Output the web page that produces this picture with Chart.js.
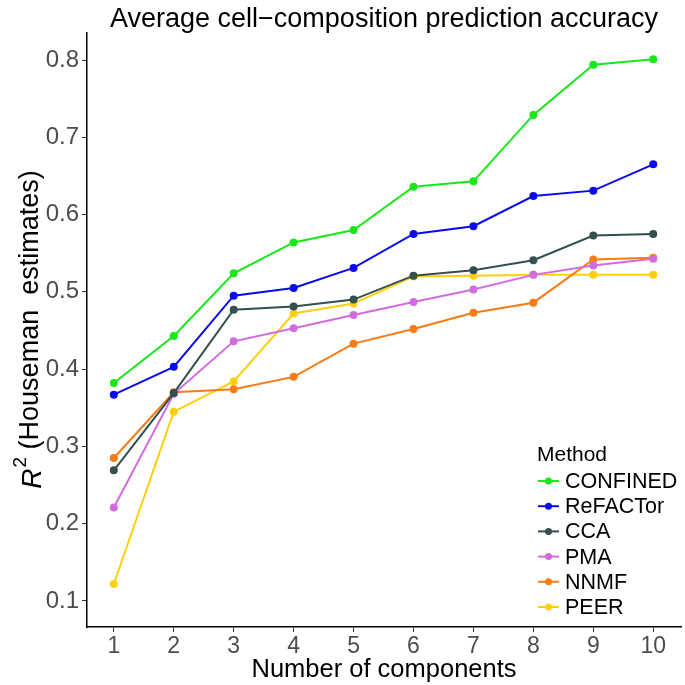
<!DOCTYPE html>
<html>
<head>
<meta charset="utf-8">
<script src="https://cdn.jsdelivr.net/npm/chart.js@4"></script>
<style>
  html, body { margin: 0; padding: 0; background: #fff; }
  #wrap { width: 685px; height: 685px; }
</style>
</head>
<body>
<div id="wrap"><canvas id="chart" width="685" height="685"></canvas></div>
<script>
const components = [1, 2, 3, 4, 5, 6, 7, 8, 9, 10];
const methods = ['CONFINED', 'ReFACTor', 'CCA', 'PMA', 'NNMF', 'PEER'];
const colors = ['#17E817', '#0A0AEE', '#334F4F', '#D36BE0', '#FA7A14', '#FFCF0F'];

const confined = [0.382, 0.443, 0.524, 0.564, 0.580, 0.636, 0.643, 0.729, 0.794, 0.801];
const refactor = [0.367, 0.403, 0.495, 0.505, 0.531, 0.575, 0.585, 0.624, 0.631, 0.665];
const cca      = [0.269, 0.369, 0.477, 0.481, 0.490, 0.521, 0.528, 0.541, 0.573, 0.575];
const pma      = [0.221, 0.368, 0.436, 0.453, 0.470, 0.487, 0.503, 0.522, 0.534, 0.543];
const nnmf     = [0.285, 0.370, 0.374, 0.390, 0.433, 0.452, 0.473, 0.486, 0.542, 0.544];
const peer     = [0.122, 0.345, 0.384, 0.472, 0.485, 0.520, 0.521, 0.522, 0.522, 0.522];

const yTicks = [0.1, 0.2, 0.3, 0.4, 0.5, 0.6, 0.7, 0.8];
const series = [confined, refactor, cca, pma, nnmf, peer];

const FONT = '"Liberation Sans", Arial, Helvetica, sans-serif';

const datasets = series.map((vals, i) => ({
    label: methods[i],
    data: vals.map((v, j) => ({ x: components[j], y: v })),
    borderColor: colors[i],
    backgroundColor: colors[i],
    borderWidth: 2,
    pointRadius: 4,
    pointHoverRadius: 4,
    pointBorderWidth: 0,
    tension: 0
}));

// title, y-axis title (with italic R and superscript) and the legend box
const decorations = {
    id: 'decorations',
    afterDraw(chart) {
        const ctx = chart.ctx;
        const area = chart.chartArea;
        ctx.save();

        ctx.fillStyle = '#000';
        ctx.font = '27px ' + FONT;
        ctx.textAlign = 'center';
        ctx.textBaseline = 'alphabetic';
        ctx.fillText('Average cell\u2212composition prediction accuracy', (area.left + area.right) / 2, 27);

        // y title
        ctx.save();
        ctx.translate(31, 330);
        ctx.rotate(-Math.PI / 2);
        const rest = ' (Houseman  estimates)';
        ctx.font = 'italic 28px ' + FONT;
        const wR = ctx.measureText('R').width;
        ctx.font = '19px ' + FONT;
        const w2 = ctx.measureText('2').width;
        ctx.font = '27px ' + FONT;
        const wRest = ctx.measureText(rest).width;
        let x = -(wR + w2 + wRest) / 2;
        ctx.textAlign = 'left';
        ctx.textBaseline = 'middle';
        ctx.font = 'italic 28px ' + FONT;
        ctx.fillText('R', x, 2);
        x += wR + 1;
        ctx.font = '19px ' + FONT;
        ctx.fillText('2', x, -10);
        x += w2;
        ctx.font = '27px ' + FONT;
        ctx.fillText(rest, x, 0);
        ctx.restore();

        // legend
        ctx.font = '21px ' + FONT;
        ctx.textAlign = 'left';
        ctx.textBaseline = 'middle';
        ctx.fillStyle = '#000';
        ctx.fillText('Method', 537, 455);
        chart.data.datasets.forEach((ds, i) => {
            const cy = 481 + i * 25.2;
            ctx.strokeStyle = ds.borderColor;
            ctx.lineWidth = 2;
            ctx.beginPath();
            ctx.moveTo(538, cy);
            ctx.lineTo(559, cy);
            ctx.stroke();
            ctx.fillStyle = ds.borderColor;
            ctx.beginPath();
            ctx.arc(548.5, cy, 3.5, 0, Math.PI * 2);
            ctx.fill();
            ctx.fillStyle = '#000';
            ctx.font = '21.5px ' + FONT;
            ctx.fillText(ds.label, 565, cy + 1);
        });
        ctx.restore();
    }
};

new Chart(document.getElementById('chart'), {
    type: 'line',
    data: { datasets: datasets },
    options: {
        responsive: false,
        animation: false,
        devicePixelRatio: 1,
        layout: { padding: { top: 33, right: 0, left: 0, bottom: 0 } },
        plugins: {
            legend: { display: false },
            title: { display: false },
            tooltip: { enabled: false }
        },
        scales: {
            x: {
                type: 'linear',
                min: 0.5525,
                max: 10.4635,
                afterFit(scale) { scale.height = 58; },
                afterBuildTicks(scale) {
                    scale.ticks = components.map(v => ({ value: v }));
                },
                border: { display: true, color: '#000', width: 1.5 },
                grid: { display: true, drawOnChartArea: false, drawTicks: true, tickLength: 5, color: '#333', lineWidth: 1 },
                ticks: {
                    color: '#4D4D4D',
                    font: { family: FONT, size: 23 },
                    padding: 1,
                    callback: v => String(v)
                },
                title: {
                    display: true,
                    text: 'Number of components',
                    color: '#000',
                    font: { family: FONT, size: 25.5 },
                    padding: { top: -2, bottom: 0 }
                }
            },
            y: {
                min: 0.0663,
                max: 0.835,
                afterFit(scale) { scale.width = 87; },
                afterBuildTicks(scale) {
                    scale.ticks = yTicks.map(v => ({ value: v }));
                },
                border: { display: true, color: '#000', width: 1.5 },
                grid: { display: true, drawOnChartArea: false, drawTicks: true, tickLength: 5, color: '#333', lineWidth: 1 },
                ticks: {
                    color: '#4D4D4D',
                    font: { family: FONT, size: 24 },
                    padding: 3,
                    callback: v => v.toFixed(1)
                }
            }
        }
    },
    plugins: [decorations]
});
</script>
</body>
</html>
